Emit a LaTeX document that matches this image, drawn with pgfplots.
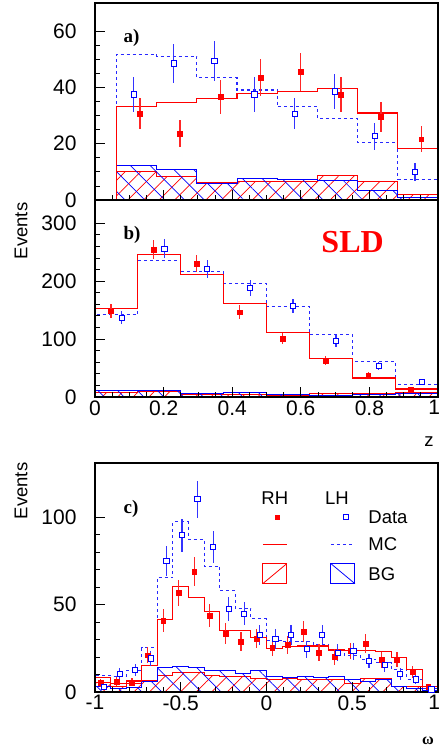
\documentclass[border=0pt]{standalone}
\usepackage{fontspec}
\setmainfont{Liberation Sans}
\newfontfamily\serifbf{Liberation Serif}
\usepackage{pgfplots}
\pgfplotsset{compat=1.18}
\usetikzlibrary{patterns.meta}
\definecolor{mcblue}{RGB}{40,40,255}

\pgfplotsset{
  panel/.style={scale only axis, width=343pt, anchor=south west, axis on top,
    axis line style={line width=1.1pt}, tick align=inside, xtick pos=bottom, ytick pos=left,
    major tick length=10pt, minor tick length=5pt,
    every tick/.style={black, line width=0.8pt},
    tick label style={font=\fontsize{21}{24}\selectfont},
    /pgf/number format/assume math mode=true,
    yticklabel style={xshift=-15pt}},
  rmc/.style={forget plot, const plot, red, line width=1.1pt},
  bmc/.style={forget plot, const plot, mcblue, line width=1.1pt, dashed},
  rbg/.style={forget plot, const plot, draw=red, line width=1pt,
    pattern={Lines[angle=45,distance=11pt,line width=0.7pt]}, pattern color=red},
  bbg/.style={forget plot, const plot, draw=blue, line width=1pt,
    pattern={Lines[angle=-45,distance=14pt,line width=0.7pt]}, pattern color=blue},
  rdat/.style={forget plot, only marks, mark=square*, mark size=2.4pt, color=red,
    mark options={fill=red, draw=red},
    error bars/y dir=both, error bars/y explicit,
    error bars/error bar style={line width=1.2pt, red!85}, error bars/error mark=none},
  bdat/.style={forget plot, only marks, mark=square*, mark size=2.6pt, color=blue,
    mark options={fill=white, draw=blue, line width=0.9pt},
    error bars/y dir=both, error bars/y explicit,
    error bars/error bar style={line width=1.2pt, blue!80}, error bars/error mark=none},
}

\begin{document}
\begin{tikzpicture}[x=1pt,y=1pt]
\useasboundingbox (0,0) rectangle (440,748);

% ---------------- panel a ----------------
\begin{axis}[panel, at={(95pt,548pt)}, height=197pt,
  xmin=0, xmax=1, ymin=0, ymax=70,
  xtick={0,0.2,0.4,0.6,0.8,1}, xticklabels={}, minor x tick num=3,
  ytick={0,20,40,60}, minor y tick num=3]
\addplot[rbg] coordinates {(0.0625,10.0) (0.1797,8.5) (0.2969,6.2) (0.4141,6.5) (0.5313,6.7) (0.6484,8.8) (0.7656,6.4) (0.8828,2.0) (1,2.0)} \closedcycle;
\addplot[bbg] coordinates {(0.0625,12.1) (0.1797,10.8) (0.2969,5.9) (0.4141,7.6) (0.5313,7.3) (0.6484,7.1) (0.7656,3.4) (0.8828,0.9) (1,0.9)} \closedcycle;
\addplot[bmc] coordinates {(0.0625,0) (0.0625,51.8) (0.1797,51.1) (0.2969,43.4) (0.4141,39.1) (0.5313,33.2) (0.6484,28.8) (0.7656,20.4) (0.8828,7.4) (1,7.4)};
\addplot[rmc] coordinates {(0.0625,0) (0.0625,33.2) (0.1797,34.5) (0.2969,36.2) (0.4141,37.8) (0.5313,38.5) (0.6484,39.6) (0.7656,30.9) (0.8828,18.2) (1,18.2)};
\addplot[rdat] table[x index=0, y index=1, y error index=2] {
0.131 30.7 5.54
0.248 23.6 4.86
0.366 36.6 6.05
0.483 43.5 6.60
0.600 45.5 6.75
0.717 37.5 6.12
0.834 29.5 5.43
0.951 21.6 4.65
};
\addplot[bdat] table[x index=0, y index=1, y error index=2] {
0.113 37.5 6.12
0.230 48.5 6.96
0.348 49.4 7.03
0.465 37.5 6.12
0.582 30.7 5.54
0.699 38.6 6.21
0.816 22.7 4.76
0.933 9.9 3.15
};
\node[anchor=base west, font=\serifbf\bfseries\fontsize{19}{22}\selectfont] at (axis description cs:0.073,0.797) {a)};
\end{axis}

% ---------------- panel b ----------------
\begin{axis}[panel, at={(95pt,351pt)}, height=197pt,
  xmin=0, xmax=1, ymin=0, ymax=340,
  xtick={0,0.2,0.4,0.6,0.8,1}, xticklabels={0,0.2,0.4,0.6,0.8,\makebox[12pt][r]{1\hspace{4pt}}}, minor x tick num=3,
  ytick={0,100,200,300}, minor y tick num=4]
\addplot[rbg] coordinates {(0,8.6) (0.125,9.8) (0.25,4) (0.375,4.6) (0.5,3) (0.625,5.2) (0.75,6.9) (0.875,7.5) (1,7.5)} \closedcycle;
\addplot[bbg] coordinates {(0,11.5) (0.125,11.5) (0.25,5.8) (0.375,7.5) (0.5,4) (0.625,3) (0.75,4.6) (0.875,5.8) (1,5.8)} \closedcycle;
\addplot[bmc] coordinates {(0,0) (0,142.3) (0.125,236) (0.25,217) (0.375,196.5) (0.5,155.6) (0.625,108.3) (0.75,61) (0.875,21.3) (1,21.3)};
\addplot[rmc] coordinates {(0,0) (0,152.7) (0.125,246) (0.25,212) (0.375,161.3) (0.5,111.2) (0.625,65.7) (0.75,32.8) (0.875,13.8) (1,13.8)};
\addplot[rdat] table[x index=0, y index=1, y error index=2] {
0.0465 148.0 12.2
0.1715 254.7 16.0
0.2965 230.5 15.2
0.4215 146.4 12.1
0.5465 100.8 10.0
0.6715 62.8 7.9
0.7965 36.9 6.1
0.9215 12.7 3.6
};
\addplot[bdat] table[x index=0, y index=1, y error index=2] {
0.0775 137.0 11.7
0.2025 256.0 16.0
0.3275 220.7 14.9
0.4525 187.8 13.7
0.5775 157.3 12.5
0.7025 96.8 9.8
0.8275 53.6 7.3
0.9525 25.9 5.1
};
\node[anchor=base west, font=\serifbf\bfseries\fontsize{19}{22}\selectfont] at (axis description cs:0.073,0.797) {b)};
\node[anchor=base west, text=red, font=\serifbf\bfseries\fontsize{32}{36}\selectfont] at (axis description cs:0.65,0.736) {SLD};
\end{axis}

% ---------------- panel c ----------------
\begin{axis}[panel, at={(95pt,56pt)}, height=229pt,
  xmin=-1, xmax=1, ymin=0, ymax=131,
  xtick={-1,-0.5,0,0.5,1}, xticklabels={-1,-0.5,0,0.5,\makebox[12pt][r]{1\hspace{4pt}}}, minor x tick num=4,
  ytick={0,50,100}, minor y tick num=4,
  legend columns=2, legend cell align=left,
  legend style={at={(0.487,0.878)}, anchor=north west, draw=none, fill=none,
    font=\fontsize{18.5}{20}\selectfont, inner sep=0pt, row sep=5pt,
    nodes={inner sep=0pt, text height=13pt, text depth=0pt},
    /tikz/every odd column/.append style={column sep=13pt},
    /tikz/every even column/.append style={column sep=29pt}}]
\addplot[rbg] coordinates {(-1,5.3) (-0.9091,3.4) (-0.8182,5.0) (-0.7273,6.5) (-0.6364,9.5) (-0.5455,11.4) (-0.4545,11.4) (-0.3636,9.5) (-0.2727,8.6) (-0.1818,8.6) (-0.0909,7.6) (0,7.0) (0.0909,7.8) (0.1818,7.4) (0.2727,7.4) (0.3636,6.9) (0.4545,5.0) (0.5455,8.0) (0.6364,8.0) (0.7273,3.4) (0.8182,3.4) (0.9091,2.0) (1,2.0)} \closedcycle;
\addplot[bbg] coordinates {(-1,3.4) (-0.9091,2.1) (-0.8182,2.7) (-0.7273,5.9) (-0.6364,13.9) (-0.5455,14.5) (-0.4545,14.0) (-0.3636,12.4) (-0.2727,12.4) (-0.1818,10.5) (-0.0909,12.2) (0,9.0) (0.0909,8.5) (0.1818,9.0) (0.2727,8.5) (0.3636,9.0) (0.4545,7.0) (0.5455,6.0) (0.6364,7.0) (0.7273,3.0) (0.8182,2.0) (0.9091,1.0) (1,1.0)} \closedcycle;
\addplot[bmc] coordinates {(-1,0) (-1,9.5) (-0.9091,9.0) (-0.8182,12.4) (-0.7273,25.3) (-0.6364,65.5) (-0.5455,97.3) (-0.4545,87.2) (-0.3636,72.0) (-0.2727,57.9) (-0.1818,47.8) (-0.0909,42.0) (0,29.5) (0.0909,28.8) (0.1818,28.8) (0.2727,26.9) (0.3636,24.0) (0.4545,21.0) (0.5455,18.7) (0.6364,16.8) (0.7273,13.0) (0.8182,7.2) (0.9091,2.0) (1,2.0)};
\addplot[rmc] coordinates {(-1,0) (-1,8.2) (-0.9091,5.0) (-0.8182,6.3) (-0.7273,15.0) (-0.6364,41.5) (-0.5455,60.2) (-0.4545,54.0) (-0.3636,46.3) (-0.2727,35.0) (-0.1818,35.0) (-0.0909,31.0) (0,25.0) (0.0909,25.9) (0.1818,26.3) (0.2727,26.3) (0.3636,24.0) (0.4545,23.6) (0.5455,23.6) (0.6364,23.0) (0.7273,19.8) (0.8182,13.0) (0.9091,3.0) (1,3.0)};
\addplot[rdat] table[x index=0, y index=1, y error index=2] {
-0.9665 5.3 2.3
-0.8756 6.1 2.5
-0.7847 5.5 2.35
-0.6938 21.1 4.6
-0.6029 40.8 6.4
-0.5120 56.8 7.5
-0.4211 68.8 8.3
-0.3302 43.6 6.6
-0.2393 33.5 5.8
-0.1484 28.8 5.4
-0.0575 30.7 5.5
0.0335 25.5 5.05
0.1244 26.9 5.2
0.2153 34.5 5.9
0.3062 22.7 4.8
0.3971 20.2 4.5
0.4880 23.4 4.8
0.5789 27.8 5.3
0.6698 18.3 4.3
0.7607 18.7 4.3
0.8516 11.6 3.4
0.9425 3.0 1.7
};
\addplot[bdat] table[x index=0, y index=1, y error index=2] {
-0.9475 2.7 1.6
-0.8566 10.3 3.2
-0.7657 12.6 3.55
-0.6748 19.2 4.4
-0.5839 74.9 8.65
-0.4930 89.7 9.5
-0.4021 110.3 10.5
-0.3112 83.0 9.1
-0.2203 47.4 6.9
-0.1294 44.8 6.7
-0.0385 32.6 5.7
0.0525 30.3 5.5
0.1434 32.6 5.7
0.2343 24.4 4.9
0.3252 32.6 5.7
0.4161 22.5 4.75
0.5070 23.4 4.85
0.5979 17.7 4.2
0.6888 15.4 3.9
0.7797 10.3 3.2
0.8706 7.2 2.7
0.9615 1.5 1.2
};
% legend
\addlegendimage{legend image code/.code={\path[draw=none,fill=none] (0,-7pt) rectangle (24pt,7pt); \node[overlay, anchor=center, draw=none, fill=none, text=black, font=\fontsize{18.5}{20}\selectfont] at (12pt,0) {RH};}}
\addlegendentry{}
\addlegendimage{legend image code/.code={\path[draw=none,fill=none] (0,-7pt) rectangle (24pt,7pt); \node[overlay, anchor=center, draw=none, fill=none, text=black, font=\fontsize{18.5}{20}\selectfont] at (6pt,0) {LH};}}
\addlegendentry{}
\addlegendimage{legend image code/.code={\path[draw=none,fill=none] (0,-7pt) rectangle (24pt,7pt); \fill[red, draw=none] (12.5pt,-2.5pt) rectangle (17.5pt,2.5pt);}}
\addlegendentry{}
\addlegendimage{legend image code/.code={\path[draw=none,fill=none] (0,-7pt) rectangle (24pt,7pt); \draw[blue, fill=white, line width=0.9pt] (12.5pt,-2.5pt) rectangle (17.5pt,2.5pt);}}
\addlegendentry{Data}
\addlegendimage{legend image code/.code={\path[draw=none,fill=none] (0,-14pt) rectangle (24pt,15pt); \draw[red, line width=1.1pt] (0,0) -- (24pt,0);}}
\addlegendentry{}
\addlegendimage{legend image code/.code={\path[draw=none,fill=none] (0,-14pt) rectangle (24pt,15pt); \draw[mcblue, line width=1.1pt, dashed] (0,0) -- (24pt,0);}}
\addlegendentry{MC}
\addlegendimage{legend image code/.code={\draw[red, fill=none, line width=1pt] (0,-10pt) rectangle (24pt,10pt); \draw[red, line width=0.8pt] (0,-10pt) -- (24pt,10pt);}}
\addlegendentry{}
\addlegendimage{legend image code/.code={\draw[blue, fill=none, line width=1pt] (0,-10pt) rectangle (24pt,10pt); \draw[blue, line width=0.8pt] (0,10pt) -- (24pt,-10pt);}}
\addlegendentry{BG}
\node[anchor=base west, font=\serifbf\bfseries\fontsize{19}{22}\selectfont] at (axis description cs:0.073,0.78) {c)};
\end{axis}

% axis titles
\node[rotate=90, font=\fontsize{18.5}{20}\selectfont] at (21,517) {Events};
\node[rotate=90, font=\fontsize{18.5}{20}\selectfont] at (21,257) {Events};
\node[anchor=base, font=\fontsize{18.5}{20}\selectfont] at (429,301) {z};
\node[anchor=base, font=\serifbf\bfseries\fontsize{16}{18}\selectfont] at (428,4) {ω};
\end{tikzpicture}
\end{document}
